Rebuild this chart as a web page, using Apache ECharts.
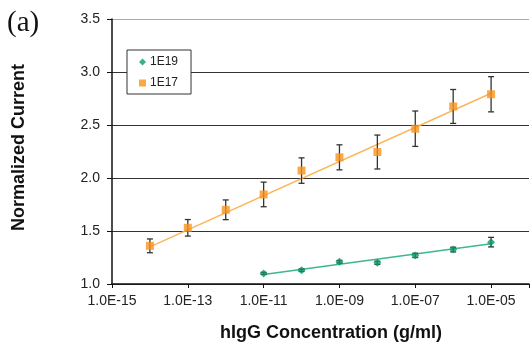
<!DOCTYPE html>
<html>
<head>
<meta charset="utf-8">
<script src="https://cdn.jsdelivr.net/npm/echarts@6/dist/echarts.min.js"></script>
<style>html,body{margin:0;padding:0;background:#fff;}#c{width:532px;height:347px;}</style>
</head>
<body>
<div id="c"></div>
<script>
// concentrations (g/ml)
const conc17 = [1e-14, 1e-13, 1e-12, 1e-11, 1e-10, 1e-9, 1e-8, 1e-7, 1e-6, 1e-5];
const val17 = [1.36, 1.53, 1.70, 1.845, 2.07, 2.195, 2.245, 2.465, 2.675, 2.79];
const err17 = [0.065, 0.078, 0.093, 0.116, 0.12, 0.118, 0.16, 0.167, 0.16, 0.166];
const conc19 = [1e-11, 1e-10, 1e-9, 1e-8, 1e-7, 1e-6, 1e-5];
const val19 = [1.10, 1.13, 1.21, 1.20, 1.27, 1.325, 1.395];
const err19 = [0.01, 0.012, 0.012, 0.015, 0.02, 0.022, 0.045];
// trendline end points
const trend17Conc = [1e-14, 1e-5];
const trend17Val = [1.35, 2.80];
const trend19Conc = [1e-11, 1e-5];
const trend19Val = [1.09, 1.38];
const yTicks = [1.0, 1.5, 2.0, 2.5, 3.0, 3.5];

const FONT = '"Liberation Sans", Arial, sans-serif';
const ORANGE = '#F7941D', ORANGE_LINE = '#FDB55A';
const GREEN = '#0B9A6B', GREEN_LINE = '#3DB88C';
const lg = v => Math.log10(v);

function pts(c, v) { return c.map((x, i) => [lg(x), v[i]]); }
function errPts(c, v, e) { return c.map((x, i) => [lg(x), v[i], e[i]]); }

function errRender(params, api) {
  const x = api.value(0), y = api.value(1), e = api.value(2);
  const top = api.coord([x, y + e]);
  const bot = api.coord([x, y - e]);
  const hw = 3;
  const st = { stroke: '#333', lineWidth: 1.3 };
  return {
    type: 'group',
    children: [
      { type: 'line', shape: { x1: top[0], y1: top[1], x2: bot[0], y2: bot[1] }, style: st },
      { type: 'line', shape: { x1: top[0] - hw, y1: top[1], x2: top[0] + hw, y2: top[1] }, style: st },
      { type: 'line', shape: { x1: bot[0] - hw, y1: bot[1], x2: bot[0] + hw, y2: bot[1] }, style: st }
    ]
  };
}

const chart = echarts.init(document.getElementById('c'), null, { renderer: 'canvas' });
chart.setOption({
  animation: false,
  backgroundColor: '#fff',
  textStyle: { fontFamily: FONT },
  grid: { left: 112, top: 19, width: 423, height: 268.5 },
  graphic: [{
    type: 'text', left: 7, top: 9,
    style: { text: '(a)', font: '29px "Liberation Serif", "Times New Roman", serif', fill: '#111' }
  }],
  legend: {
    orient: 'vertical', left: 127, top: 50,
    padding: [6, 13, 5, 12],
    itemGap: 9, itemWidth: 7, itemHeight: 7,
    backgroundColor: '#fff', borderColor: '#333', borderWidth: 1, borderRadius: 0,
    textStyle: { fontSize: 12, color: '#222', fontFamily: FONT, padding: [0, 0, 0, -1] },
    data: [{ name: '1E19', icon: 'diamond' }, { name: '1E17', icon: 'rect' }],
    z: 20
  },
  xAxis: {
    type: 'value', min: -15, max: -4, interval: 2,
    name: 'hIgG Concentration (g/ml)', nameLocation: 'middle', nameGap: 40,
    nameTextStyle: { fontSize: 18, fontWeight: 'bold', color: '#111', fontFamily: FONT, padding: [0, 0, 0, 21] },
    axisLine: { show: true, onZero: false, lineStyle: { color: '#111', width: 1.5 } },
    axisTick: { show: true, length: 4, lineStyle: { color: '#111' } },
    axisLabel: {
      margin: 10, fontSize: 14, color: '#222', fontFamily: FONT,
      formatter: v => v === -4 ? '' : '1.0E' + (v < 0 ? '-' : '+') + String(Math.abs(v)).padStart(2, '0')
    },
    splitLine: { show: false }
  },
  yAxis: {
    type: 'value', min: yTicks[0], max: yTicks[yTicks.length - 1], interval: 0.5,
    name: 'Normalized Current', nameLocation: 'middle', nameGap: 84,
    nameTextStyle: { fontSize: 18, fontWeight: 'bold', color: '#111', fontFamily: FONT, padding: [0, 0, 0, 8] },
    axisLine: { show: true, lineStyle: { color: '#111', width: 1.5 } },
    axisTick: { show: true, length: 5, lineStyle: { color: '#111' } },
    axisLabel: { margin: 12, fontSize: 14, color: '#222', fontFamily: FONT, formatter: v => v.toFixed(1) },
    splitLine: { show: true, lineStyle: { color: ['#333', '#333', '#333', '#333', '#333', '#aaa'], width: 1.2 } }
  },
  series: [
    { name: 'trend17', type: 'line', data: pts(trend17Conc, trend17Val), symbol: 'none',
      lineStyle: { color: ORANGE_LINE, width: 1.5 }, z: 2, silent: true },
    { name: 'trend19', type: 'line', data: pts(trend19Conc, trend19Val), symbol: 'none',
      lineStyle: { color: GREEN_LINE, width: 1.5 }, z: 2, silent: true },
    { name: 'err17', type: 'custom', renderItem: errRender, data: errPts(conc17, val17, err17), z: 3 },
    { name: 'err19', type: 'custom', renderItem: errRender, data: errPts(conc19, val19, err19), z: 3 },
    { name: '1E19', type: 'scatter', data: pts(conc19, val19), symbol: 'diamond', symbolSize: 8,
      itemStyle: { color: GREEN }, z: 5 },
    { name: '1E17', type: 'scatter', data: pts(conc17, val17), symbol: 'rect', symbolSize: 8,
      itemStyle: { color: ORANGE }, z: 5 }
  ]
});
</script>
</body>
</html>
